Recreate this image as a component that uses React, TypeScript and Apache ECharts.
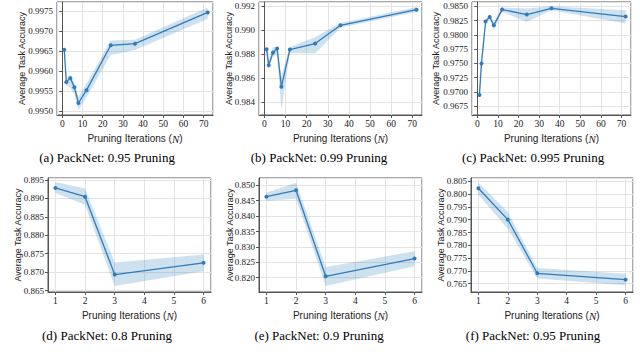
import React, { useEffect, useRef } from "react";
import * as echarts from "echarts";

// ---- data ----
const xTop = [1, 2, 4, 6, 8, 12, 24, 36, 72];
const xBottom = [1, 2, 3, 6];

const accA = [0.99653, 0.99572, 0.99582, 0.99559, 0.9952, 0.99552, 0.99664, 0.99668, 0.99746];
const lowA = [0.99648, 0.99564, 0.99558, 0.99543, 0.99502, 0.99535, 0.9964, 0.99652, 0.9973];
const highA = [0.99658, 0.9958, 0.99592, 0.9957, 0.99535, 0.99568, 0.99676, 0.99678, 0.99758];

const accB = [0.98843, 0.9871, 0.98815, 0.98848, 0.9853, 0.9884, 0.9889, 0.99042, 0.99172];
const lowB = [0.98765, 0.98682, 0.98779, 0.98807, 0.98336, 0.98812, 0.98807, 0.99023, 0.99153];
const highB = [0.9889, 0.98738, 0.98862, 0.98862, 0.98613, 0.98862, 0.98945, 0.99062, 0.99194];

const accC = [0.96943, 0.97497, 0.98232, 0.98313, 0.98168, 0.98442, 0.98354, 0.98465, 0.9832];
const lowC = [0.96884, 0.9752, 0.98197, 0.98278, 0.9808, 0.98401, 0.98226, 0.9843, 0.98197];
const highC = [0.97001, 0.97637, 0.98267, 0.98348, 0.98226, 0.98477, 0.98459, 0.985, 0.9843];

const accD = [0.89282, 0.89045, 0.86936, 0.87255];
const lowD = [0.89145, 0.88827, 0.86627, 0.87027];
const highD = [0.89445, 0.89264, 0.87264, 0.87482];

const accE = [0.84632, 0.84838, 0.82045, 0.8262];
const lowE = [0.84502, 0.84567, 0.81732, 0.8237];
const highE = [0.84762, 0.85087, 0.82348, 0.82857];

const accF = [0.80227, 0.79003, 0.76906, 0.76659];
const lowF = [0.79979, 0.78651, 0.76698, 0.76437];
const highF = [0.80448, 0.79302, 0.77114, 0.76893];

const captions = [
  "(a) PackNet: 0.95 Pruning",
  "(b) PackNet: 0.99 Pruning",
  "(c) PackNet: 0.995 Pruning",
  "(d) PackNet: 0.8 Pruning",
  "(e) PackNet: 0.9 Pruning",
  "(f) PackNet: 0.95 Pruning",
];

const xTitle = "Pruning Iterations (";
const yTitle = "Average Task Accuracy";

type Panel = {
  x: number[];
  acc: number[];
  low: number[];
  high: number[];
  grid: { left: number; top: number; width: number; height: number };
  xr: [number, number];
  xstep: number;
  yr: [number, number];
  ystep: number;
  ydec: number;
  yGap: number;
  cap: [number, number];
};

const panels: Panel[] = [
  { x: xTop, acc: accA, low: lowA, high: highA, grid: { left: 57, top: 2, width: 156, height: 113 }, xr: [-2.6, 74.6], xstep: 10, yr: [0.9949, 0.99772], ystep: 0.0005, ydec: 4, yGap: 31, cap: [107, 157] },
  { x: xTop, acc: accB, low: lowB, high: highB, grid: { left: 259, top: 2, width: 163, height: 113 }, xr: [-2.6, 74.6], xstep: 10, yr: [0.98295, 0.99236], ystep: 0.002, ydec: 3, yGap: 25.5, cap: [319, 157] },
  { x: xTop, acc: accC, low: lowC, high: highC, grid: { left: 472, top: 2, width: 159, height: 113 }, xr: [-2.6, 74.6], xstep: 10, yr: [0.96593, 0.98575], ystep: 0.0025, ydec: 4, yGap: 31.5, cap: [533, 157] },
  { x: xBottom, acc: accD, low: lowD, high: highD, grid: { left: 48, top: 178, width: 163, height: 114 }, xr: [0.75, 6.25], xstep: 1, yr: [0.86464, 0.8955], ystep: 0.005, ydec: 3, yGap: 25.5, cap: [107, 335] },
  { x: xBottom, acc: accE, low: lowE, high: highE, grid: { left: 259, top: 178, width: 163, height: 114 }, xr: [0.75, 6.25], xstep: 1, yr: [0.81535, 0.85238], ystep: 0.005, ydec: 3, yGap: 24.5, cap: [319, 335] },
  { x: xBottom, acc: accF, low: lowF, high: highF, grid: { left: 471, top: 178, width: 162, height: 114 }, xr: [0.75, 6.25], xstep: 1, yr: [0.76175, 0.8063], ystep: 0.005, ydec: 3, yGap: 25.5, cap: [533, 335] },
];

const LINE = "#2e7bbd";
const BAND = "rgba(31,119,180,0.22)";
const GRIDC = "#e3e3e3";
const BORDER = "#555";
const SERIF = "'Liberation Serif', 'Times New Roman', serif";
const SANS = "'Liberation Sans', Arial, sans-serif";

const isMult = (v: number, s: number) => Math.abs(v / s - Math.round(v / s)) < 1e-4;

export default function App() {
  const ref = useRef<HTMLDivElement>(null);
  useEffect(() => {
    document.body.style.margin = "0";
    const chart = echarts.init(ref.current!, undefined, { renderer: "svg" });
    const grid: any[] = [];
    const xAxis: any[] = [];
    const yAxis: any[] = [];
    const series: any[] = [];
    const graphic: any[] = [];
    panels.forEach((p, i) => {
      grid.push({ ...p.grid, show: true, borderColor: BORDER, borderWidth: 1, containLabel: false });
      xAxis.push({
        type: "value",
        gridIndex: i,
        min: p.xr[0],
        max: p.xr[1],
        minInterval: p.xstep,
        maxInterval: p.xstep,
        axisLine: { show: true, lineStyle: { color: BORDER, width: 1 } },
        axisTick: { show: true, length: 3, lineStyle: { color: BORDER } },
        axisLabel: {
          margin: 4,
          color: "#222",
          fontFamily: SERIF,
          fontSize: 9.5,
          showMinLabel: false,
          showMaxLabel: false,
          formatter: (v: number) => (isMult(v, p.xstep) ? String(Math.round(v)) : ""),
        },
        splitLine: { show: true, lineStyle: { color: GRIDC, width: 1 } },
        name: "{t|" + xTitle + "}{i|N}{t|)}",
        nameLocation: "middle",
        nameGap: 18,
        nameMoveOverlap: false,
        nameTextStyle: {
          rich: {
            t: { fontFamily: SANS, fontSize: 10, color: "#222" },
            i: { fontFamily: SERIF, fontStyle: "italic", fontSize: 11, color: "#222" },
          },
        },
      });
      yAxis.push({
        type: "value",
        gridIndex: i,
        min: p.yr[0],
        max: p.yr[1],
        minInterval: p.ystep,
        maxInterval: p.ystep,
        axisLine: { show: true, lineStyle: { color: BORDER, width: 1 } },
        axisTick: { show: true, length: 3, lineStyle: { color: BORDER } },
        axisLabel: {
          margin: 4,
          color: "#222",
          fontFamily: SERIF,
          fontSize: 9,
          showMinLabel: false,
          showMaxLabel: false,
          formatter: (v: number) => (isMult(v, p.ystep) ? v.toFixed(p.ydec) : ""),
        },
        splitLine: { show: true, lineStyle: { color: GRIDC, width: 1 } },
        name: yTitle,
        nameLocation: "middle",
        nameGap: p.yGap,
        nameMoveOverlap: false,
        nameTextStyle: { fontFamily: SANS, fontSize: 9, color: "#222" },
      });
      series.push({
        type: "custom",
        xAxisIndex: i,
        yAxisIndex: i,
        data: [0],
        silent: true,
        z: 1,
        renderItem: (params: any, api: any) => {
          const upper = p.x.map((x, k) => api.coord([x, p.high[k]]));
          const lower = p.x.map((x, k) => api.coord([x, p.low[k]])).reverse();
          return {
            type: "polygon",
            shape: { points: upper.concat(lower) },
            style: { fill: BAND, stroke: "none" },
          };
        },
      });
      series.push({
        type: "line",
        xAxisIndex: i,
        yAxisIndex: i,
        data: p.x.map((x, k) => [x, p.acc[k]]),
        symbol: "circle",
        symbolSize: 4,
        itemStyle: { color: LINE },
        lineStyle: { color: LINE, width: 1.3 },
        z: 5,
      });
      graphic.push({
        type: "text",
        x: p.cap[0],
        y: p.cap[1],
        style: {
          text: captions[i],
          fontFamily: SERIF,
          fontSize: 13,
          fill: "#000",
          textAlign: "center",
          textVerticalAlign: "middle",
        },
      });
    });
    chart.setOption({ animation: false, backgroundColor: "#fff", grid, xAxis, yAxis, series, graphic });
    return () => chart.dispose();
  }, []);
  return <div ref={ref} style={{ position: "fixed", left: 0, top: 0, width: 640, height: 359 }} />;
}
